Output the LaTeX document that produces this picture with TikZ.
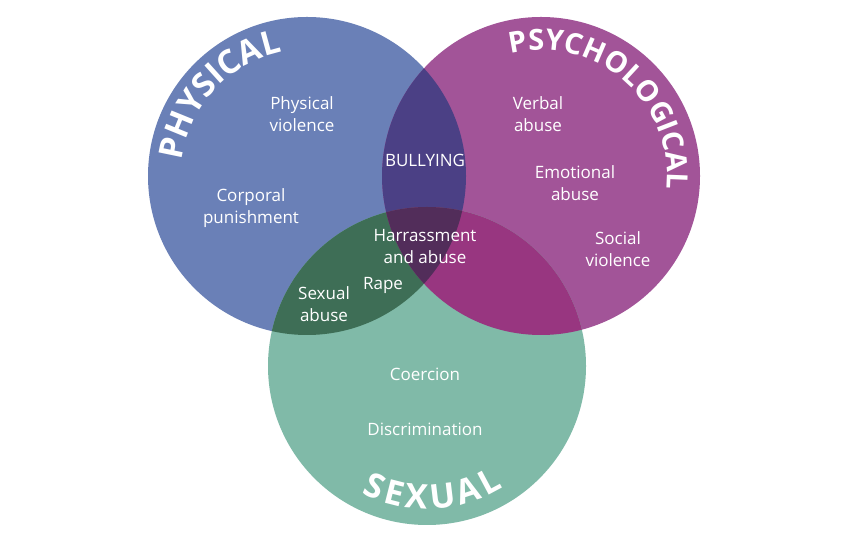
\documentclass[tikz,border=0pt]{standalone}
\usepackage{fontspec}
\setmainfont{Open Sans}
\usetikzlibrary{decorations.text}
\definecolor{cphys}{HTML}{6A80B7}
\definecolor{cpsy}{HTML}{A25498}
\definecolor{csex}{HTML}{80BAA8}
\definecolor{cpp}{HTML}{4B4085}
\definecolor{cps}{HTML}{3E6E56}
\definecolor{cys}{HTML}{983680}
\definecolor{call}{HTML}{522D5A}
\newcommand{\bodyfont}{\fontsize{17}{22}\selectfont}
\tikzset{
  lbl/.style={text=white, align=center, inner sep=0pt, font=\bodyfont},
  title/.style={decorate, decoration={text along path, text align=fit to path}}
}
\begin{document}
\begin{tikzpicture}[x=1pt,y=1pt]
\useasboundingbox (0,0) rectangle (850,545);
\fill[white] (0,0) rectangle (850,545);
\coordinate (cP) at (307,369);
\coordinate (cY) at (541,369);
\coordinate (cS) at (427,179);
\def\R{159pt}
% base circles
\fill[cphys] (cP) circle[radius=\R];
\fill[cpsy] (cY) circle[radius=\R];
\fill[csex] (cS) circle[radius=\R];
% pairwise overlaps
\begin{scope}
  \clip (cP) circle[radius=\R];
  \fill[cpp] (cY) circle[radius=\R];
  \fill[cps] (cS) circle[radius=\R];
\end{scope}
\begin{scope}
  \clip (cY) circle[radius=\R];
  \fill[cys] (cS) circle[radius=\R];
\end{scope}
\begin{scope}
  \clip (cP) circle[radius=\R];
  \clip (cY) circle[radius=\R];
  \fill[call] (cS) circle[radius=\R];
\end{scope}
% curved titles
\path[title, decoration={text={|\fontsize{33}{33}\selectfont\bfseries\color{white}|PHYSICAL}}]
  (cP) ++(173:126pt) arc[start angle=173, end angle=102, radius=126pt];
\path[title, decoration={text={|\fontsize{29}{29}\selectfont\bfseries\color{white}|PSYCHOLOGICAL}}]
  (cY) ++(104:126pt) arc[start angle=104, end angle=-6, radius=126pt];
\path[title, decoration={text={|\fontsize{34}{34}\selectfont\bfseries\color{white}|SEXUAL}}]
  (cS) ++(243:143pt) arc[start angle=243, end angle=302, radius=143pt];
% labels
\node[lbl] (pv) at (302,431) {Physical\\violence};
\node[lbl] (cp) at (251,337) {Corporal\\punishment};
\node[lbl] (bu) at (425,385) {BULLYING};
\node[lbl] (va) at (538,431) {Verbal\\abuse};
\node[lbl] (ea) at (575,362) {Emotional\\abuse};
\node[lbl] (sv) at (618,296) {Social\\violence};
\node[lbl] (ha) at (425,298) {Harrassment\\and abuse};
\node[lbl] (ra) at (383,260) {Rape};
\node[lbl] (sa) at (324,241) {Sexual\\abuse};
\node[lbl] (co) at (425,171) {Coercion};
\node[lbl] (di) at (425,116) {Discrimination};
\end{tikzpicture}
\end{document}
